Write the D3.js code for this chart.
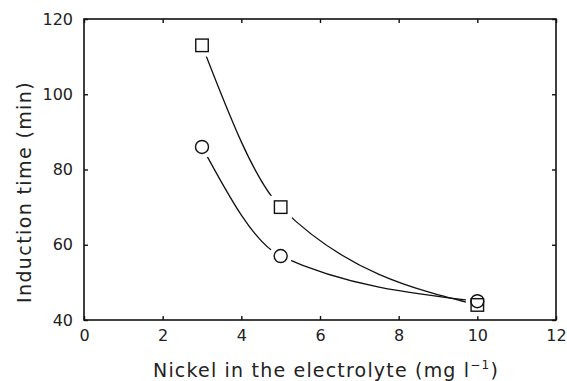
<!DOCTYPE html>
<html>
<head>
<meta charset="utf-8">
<script src="https://cdn.jsdelivr.net/npm/d3@7"></script>
<style>
  body { margin: 0; background: #fff; }
  svg text { font-family: "DejaVu Sans", "Liberation Sans", Arial, sans-serif; fill: #222; }
</style>
</head>
<body>
<div id="chart"></div>
<script>
// nickel concentration (mg/l) and induction times (min)
const nickel = [3, 5, 10];
const squareTimes = [113, 70, 44];
const circleTimes = [86, 57, 45];
const xTicks = [0, 2, 4, 6, 8, 10, 12];
const yTicks = [40, 60, 80, 100, 120];

const W = 567, H = 381;
const margin = { top: 19, right: 11, bottom: 61, left: 84 };
const width = W - margin.left - margin.right,
    height = H - margin.top - margin.bottom;

const svg = d3.select('#chart').append('svg')
    .attr('width', W).attr('height', H);

const main = svg.append('g')
    .attr('transform', 'translate(' + margin.left + ',' + margin.top + ')');

const x = d3.scaleLinear().domain([0, 12]).range([0, width]);
const y = d3.scaleLinear().domain([40, 120]).range([height, 0]);

// frame
main.append('rect')
    .attr('width', width).attr('height', height)
    .attr('fill', 'none').attr('stroke', '#111').attr('stroke-width', 1.6);

// axes, ticks pointing inward on all four sides
const tickLen = 4;
main.append('g').attr('transform', 'translate(0,' + height + ')')
    .call(d3.axisBottom(x).tickValues(xTicks).tickSize(-tickLen).tickPadding(10))
    .call(g => g.select('.domain').remove());
main.append('g')
    .call(d3.axisLeft(y).tickValues(yTicks).tickSize(-tickLen).tickPadding(11))
    .call(g => g.select('.domain').remove());
main.append('g')
    .call(d3.axisTop(x).tickValues(xTicks).tickSize(-tickLen).tickFormat(''))
    .call(g => g.select('.domain').remove());
main.append('g').attr('transform', 'translate(' + width + ',0)')
    .call(d3.axisRight(y).tickValues(yTicks).tickSize(-tickLen).tickFormat(''))
    .call(g => g.select('.domain').remove());

main.selectAll('.tick line').attr('stroke', '#111').attr('stroke-width', 1.4);
main.selectAll('.tick text')
    .style('font-size', '16px')
    .style('font-family', '"DejaVu Sans", sans-serif')
    .attr('fill', '#222');

// smooth fitted curves
const line = d3.line()
    .x(d => x(d[0]))
    .y(d => y(d[1]))
    .curve(d3.curveMonotoneX);

[squareTimes, circleTimes].forEach(vals => {
    main.append('path')
        .datum(nickel.map((n, i) => [n, vals[i]]))
        .attr('d', line)
        .attr('fill', 'none')
        .attr('stroke', '#111')
        .attr('stroke-width', 1.3);
});

const sqData = nickel.map((n, i) => [n, squareTimes[i]]);
const ciData = nickel.map((n, i) => [n, circleTimes[i]]);

// white halos so the curves stop short of the markers
const sq = 12.5, halo = 5;
main.selectAll('.sqhalo')
    .data(sqData)
    .enter().append('rect')
    .attr('x', d => x(d[0]) - sq / 2 - halo)
    .attr('y', d => y(d[1]) - sq / 2 - halo)
    .attr('width', sq + halo * 2).attr('height', sq + halo * 2)
    .attr('fill', '#fff');
main.selectAll('.cihalo')
    .data(ciData)
    .enter().append('circle')
    .attr('cx', d => x(d[0]))
    .attr('cy', d => y(d[1]))
    .attr('r', 6.5 + halo)
    .attr('fill', '#fff');

main.selectAll('.sq')
    .data(sqData)
    .enter().append('rect')
    .attr('x', d => x(d[0]) - sq / 2)
    .attr('y', d => y(d[1]) - sq / 2)
    .attr('width', sq).attr('height', sq)
    .attr('fill', 'none')
    .attr('stroke', '#111').attr('stroke-width', 1.4);

main.selectAll('.ci')
    .data(ciData)
    .enter().append('circle')
    .attr('cx', d => x(d[0]))
    .attr('cy', d => y(d[1]))
    .attr('r', 6.5)
    .attr('fill', 'none')
    .attr('stroke', '#111').attr('stroke-width', 1.4);

// spread a text element to the width it has in the reference
function fitWidth(sel, target) {
    const node = sel.node();
    const n = node.textContent.length;
    const len = node.getComputedTextLength();
    sel.style('letter-spacing', ((target - len) / n) + 'px');
}

// axis titles
const xTitle = svg.append('text')
    .attr('x', 326).attr('y', 377)
    .attr('text-anchor', 'middle')
    .style('font-size', '19px')
    .html('Nickel in the electrolyte (mg l<tspan dy="-8" style="font-size:12px">−1</tspan><tspan dy="8">)</tspan>');
fitWidth(xTitle, 346);

const yTitle = svg.append('text')
    .attr('transform', 'translate(31,192) rotate(-90)')
    .attr('text-anchor', 'middle')
    .style('font-size', '19px')
    .text('Induction time (min)');
fitWidth(yTitle, 222);
</script>
</body>
</html>
